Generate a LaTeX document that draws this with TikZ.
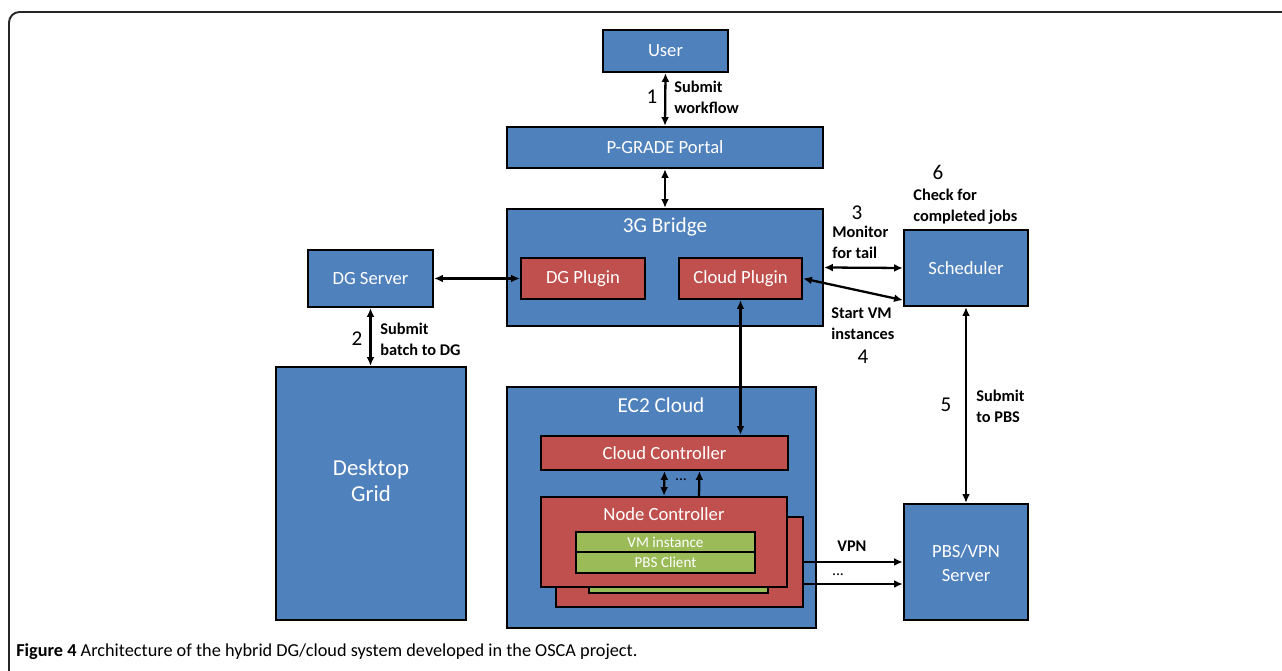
\documentclass[tikz,border=0pt]{standalone}
\usepackage{fontspec}
\setmainfont{Carlito}
\usetikzlibrary{fit,calc,arrows.meta}
\definecolor{boxblue}{HTML}{4F81BD}
\definecolor{boxred}{HTML}{C0504D}
\definecolor{boxgreen}{HTML}{9BBB59}
\tikzset{
  base/.style={draw=black, line width=1.3pt, inner sep=0pt},
  bluebox/.style={base, fill=boxblue},
  redbox/.style={base, fill=boxred},
  greenbox/.style={base, fill=boxgreen},
  boxtext/.style={text=white, inner sep=0pt, align=center, font=\fontsize{10.6}{13.5}\selectfont},
  smalltext/.style={text=white, inner sep=0pt, font=\fontsize{8.6}{9}\selectfont},
  headtext/.style={text=white, font=\fontsize{12.1}{14}\selectfont, inner sep=0pt},
  lbl/.style={anchor=west, align=left, inner sep=0pt, font=\bfseries\fontsize{9.3}{11.8}\selectfont},
  num/.style={inner sep=0pt, font=\fontsize{12}{14}\selectfont},
  conn/.style={line width=1.3pt, {Latex[length=5pt,width=4.5pt]}-{Latex[length=5pt,width=4.5pt]}},
  oneway/.style={line width=1.3pt, -{Latex[length=5pt,width=4.5pt]}}
}
\begin{document}
\begin{tikzpicture}[x=0.02cm, y=-0.02cm]
\useasboundingbox (0,0) rectangle (1282,671);
% frame
\draw[line width=1.1pt, rounded corners=6pt, black!85] (9,671) -- (9,12) -- (1282,12);

% boxes
\node[bluebox, fit={(603,30) (728,72)}] (user) {};
\node[boxtext] (usertext) at (user.center) {User};
\node[bluebox, fit={(507,127) (823,168)}] (portal) {};
\node[boxtext] (portaltext) at (portal.center) {P-GRADE Portal};
\node[bluebox, fit={(507,209) (823,326)}] (bridge) {};
\node[headtext] (bridgetitle) at (665,227) {3G Bridge};
\node[redbox, fit={(521,258) (645,299)}] (dgplugin) {};
\node[boxtext] (dgplugintext) at (dgplugin.center) {DG Plugin};
\node[redbox, fit={(679,258) (802,299)}] (cloudplugin) {};
\node[boxtext] (cloudplugintext) at (cloudplugin.center) {Cloud Plugin};
\node[bluebox, fit={(308,250) (433,307)}] (dgserver) {};
\node[boxtext] (dgservertext) at (dgserver.center) {DG Server};
\node[bluebox, fit={(276,367) (466,620)}] (desktop) {};
\node[boxtext, font=\fontsize{13}{14.8}\selectfont] (desktoptext) at (371,481) {Desktop\\Grid};
\node[bluebox, fit={(904,230) (1028,306)}] (sched) {};
\node[boxtext] (schedtext) at (sched.center) {Scheduler};
\node[bluebox, fit={(904,504) (1028,620)}] (pbs) {};
\node[boxtext] (pbstext) at (966,563) {PBS/VPN\\Server};

\node[bluebox, fit={(507,387) (816,628)}] (ec2) {};
\node[headtext] (ec2title) at (661,405) {EC2 Cloud};
\node[redbox, fit={(541,436) (788,470)}] (cc) {};
\node[boxtext] (cctext) at (cc.center) {Cloud Controller};
\node[redbox, fit={(556,517) (803,607)}] (back) {};
\node[greenbox, fit={(589,580) (768,593)}] (backvm) {};
\node[redbox, fit={(541,497) (787,587)}] (nc) {};
\node[boxtext] (nctitle) at (664,514) {Node Controller};
\node[greenbox, fit={(576,532) (755,552)}] (vm) {};
\node[smalltext] (vmtext) at (vm.center) {VM instance};
\node[greenbox, fit={(576,552) (755,573)}] (pbsclient) {};
\node[smalltext] (pbsclienttext) at (pbsclient.center) {PBS Client};

% connectors
\draw[conn] (user.south) -- (portal.north);
\draw[conn] (portal.south) -- (bridge.north);
\draw[conn] (dgserver.east) -- (dgplugin.west);
\draw[conn] (dgserver.south) -- (dgserver.south |- desktop.north);
\draw[conn] (bridge.east) -- (sched.west);
\draw[conn] (cloudplugin.east) -- ($(sched.south west)+(0,-7)$);
\draw[conn] (cloudplugin.south) -- (cloudplugin.south |- cc.north);
\draw[conn] (sched.south) -- (sched.south |- pbs.north);
\draw[conn] (cc.south) -- (nc.north);
\draw[oneway] ($(nc.north)+(35,0)$) -- ($(cc.south)+(35,0)$);
\node[text=black, inner sep=0pt, font=\fontsize{9}{10}\selectfont] (ccdots) at (681,480) {...};
\draw[oneway] (back.east) -- (back.east -| pbs.west);
\draw[oneway] ($(back.east)+(0,22)$) -- ($(back.east -| pbs.west)+(0,22)$);

% labels
\node[num] (n1) at (652,97) {1};
\node[lbl] (l1) at (674,97) {Submit\\workflow};
\node[num] (n2) at (357,339) {2};
\node[lbl] (l2) at (380,339) {Submit\\batch to DG};
\node[num] (n3) at (857,213) {3};
\node[lbl] (l3) at (832,242) {Monitor\\for tail};
\node[lbl] (l4) at (831,324) {Start VM\\instances};
\node[num] (n4) at (863,357) {4};
\node[num] (n5) at (946,405) {5};
\node[lbl] (l5) at (976,406) {Submit\\to PBS};
\node[num] (n6) at (938,172) {6};
\node[lbl] (l6) at (913,207) {Check for\\completed jobs};
\node[lbl] (lvpn) at (837,546) {VPN};
\node[inner sep=0pt, font=\fontsize{9}{10}\selectfont] (vpndots) at (838,575) {...};

% caption
\node[anchor=west, inner sep=0pt, font=\fontsize{10.4}{12}\selectfont] (caption) at (16,652) {\textbf{Figure 4} Architecture of the hybrid DG/cloud system developed in the OSCA project.};
\end{tikzpicture}
\end{document}
